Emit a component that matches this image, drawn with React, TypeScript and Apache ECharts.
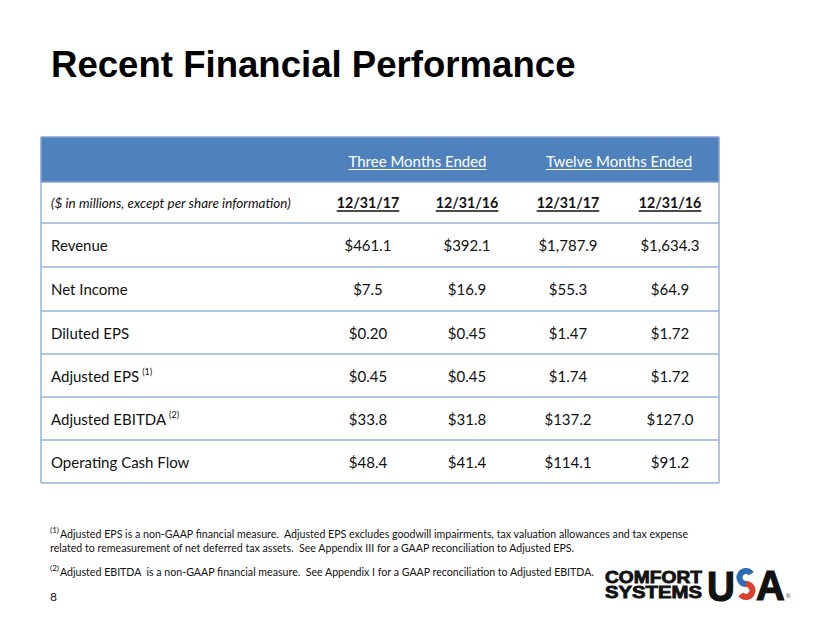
import React, { useEffect, useRef } from "react";
import * as echarts from "echarts";

// ---------- data ----------
const pageTitle = "Recent Financial Performance";
const periodGroups = ["Three Months Ended", "Twelve Months Ended"];
const unitsNote = "($ in millions, except per share information)";
const periodDates = ["12/31/17", "12/31/16", "12/31/17", "12/31/16"];
const rowLabels = ["Revenue", "Net Income", "Diluted EPS", "Adjusted EPS", "Adjusted EBITDA", "Operating Cash Flow"];
const rowNotes = ["", "", "", "(1)", "(2)", ""];
const rowDecimals = [1, 1, 2, 2, 1, 1];
const q4_2017 = [461.1, 7.5, 0.2, 0.45, 33.8, 48.4];
const q4_2016 = [392.1, 16.9, 0.45, 0.45, 31.8, 41.4];
const fy2017 = [1787.9, 55.3, 1.47, 1.74, 137.2, 114.1];
const fy2016 = [1634.3, 64.9, 1.72, 1.72, 127.0, 91.2];
const footnotes = [
  {
    mark: "(1)",
    lines: [
      "Adjusted EPS is a non-GAAP financial measure.  Adjusted EPS excludes goodwill impairments, tax valuation allowances and tax expense",
      "related to remeasurement of net deferred tax assets.  See Appendix III for a GAAP reconciliation to Adjusted EPS.",
    ],
  },
  {
    mark: "(2)",
    lines: ["Adjusted EBITDA  is a non-GAAP financial measure.  See Appendix I for a GAAP reconciliation to Adjusted EBITDA."],
  },
];
const pageNumber = "8";

// ---------- layout / style ----------
const TABLE_W = 678;
const TABLE_H = 346;
const rowEdges = [0, 45, 86, 130, 174, 217, 260, 303, 346];
const colCenters = [327, 426, 527, 629];
const LABEL_X = 10;
const BLUE = "#4F81BD";
const BORDER = "#95B3D7";
const FONT = "Lato";
const TEXT = "#111";

let measureCtx: CanvasRenderingContext2D | null = null;
function textWidth(text: string, font: string) {
  if (!measureCtx) measureCtx = document.createElement("canvas").getContext("2d");
  if (!measureCtx) return text.length * 7;
  measureCtx.font = font;
  return measureCtx.measureText(text).width;
}

function fmt(v: number, d: number) {
  return "$" + v.toLocaleString("en-US", { minimumFractionDigits: d, maximumFractionDigits: d });
}

const seriesCols = [q4_2017, q4_2016, fy2017, fy2016];

function txt(text: string, x: number, y: number, opts: any = {}) {
  const size = opts.size ?? 15;
  return {
    type: "text",
    style: {
      text,
      x,
      y,
      fill: opts.fill ?? TEXT,
      fontSize: size,
      fontFamily: opts.family ?? FONT,
      fontWeight: opts.weight ?? "normal",
      fontStyle: opts.style ?? "normal",
      align: opts.align ?? "left",
      textAlign: opts.align ?? "left",
      verticalAlign: opts.vAlign ?? "middle",
      textVerticalAlign: opts.vAlign ?? "middle",
    },
  };
}

function underlined(text: string, cx: number, cy: number, opts: any, color: string, lw: number) {
  const size = opts.size ?? 15;
  const font = `${opts.weight ?? "normal"} ${size}px ${opts.family ?? FONT}`;
  const w = textWidth(text, font);
  const uy = cy + size * 0.6;
  return [
    txt(text, cx, cy, { ...opts, align: "center" }),
    { type: "line", shape: { x1: cx - w / 2, y1: uy, x2: cx + w / 2, y2: uy }, style: { stroke: color, lineWidth: lw } },
  ];
}

export default function App() {
  const ref = useRef<HTMLDivElement>(null);
  useEffect(() => {
    if (!ref.current) return;
    const chart = echarts.init(ref.current, null, { renderer: "svg" });

    const rowCount = rowEdges.length - 1;
    const rowData = Array.from({ length: rowCount }, (_, i) => [0, rowEdges[i]]);

    const renderItem = (params: any, api: any) => {
      const i = params.dataIndex;
      const [x0, y0] = api.coord([0, rowEdges[i]]);
      const [x1, y1] = api.coord([TABLE_W, rowEdges[i + 1]]);
      const cy = (y0 + y1) / 2;
      const cx = (v: number) => api.coord([v, 0])[0];
      const children: any[] = [];
      if (i === 0) {
        children.push({ type: "rect", shape: { x: x0, y: y0, width: x1 - x0, height: y1 - y0 }, style: { fill: BLUE } });
        for (let g = 0; g < periodGroups.length; g++) {
          const gx = (cx(colCenters[g * 2]) + cx(colCenters[g * 2 + 1])) / 2;
          children.push(...underlined(periodGroups[g], gx, cy + 1, { size: 15, fill: "#fff" }, "#fff", 1));
        }
      } else if (i === 1) {
        children.push(txt(unitsNote, x0 + LABEL_X, cy, { size: 13.5, style: "italic" }));
        periodDates.forEach((d, c) => {
          children.push(...underlined(d, cx(colCenters[c]), cy, { size: 14.2, weight: "bold" }, TEXT, 1.5));
        });
      } else {
        const r = i - 2;
        const lab = rowLabels[r];
        children.push(txt(lab, x0 + LABEL_X, cy, { size: 15 }));
        if (rowNotes[r]) {
          const w = textWidth(lab, `normal 15px ${FONT}`);
          children.push(txt(rowNotes[r], x0 + LABEL_X + w + 3, cy - 4, { size: 9 }));
        }
        seriesCols.forEach((col, c) => {
          children.push(txt(fmt(col[r], rowDecimals[r]), cx(colCenters[c]), cy, { size: 15, align: "center" }));
        });
      }
      // borders
      const line = (ax: number, ay: number, bx: number, by: number) => ({
        type: "line",
        shape: { x1: ax, y1: ay, x2: bx, y2: by },
        style: { stroke: i === 0 ? "#7FA3D0" : BORDER, lineWidth: 1.5 },
      });
      children.push(line(x0, y1, x1, y1));
      children.push(line(x0, y0, x0, y1));
      children.push(line(x1, y0, x1, y1));
      if (i === 0) children.push(line(x0, y0, x1, y0));
      return { type: "group", children };
    };

    const graphics: any[] = [];
    graphics.push({
      type: "text",
      left: 51,
      top: 46,
      style: { text: pageTitle, fill: "#000", fontSize: 36.6, fontWeight: "bold", fontFamily: "Liberation Sans" },
    });
    // footnotes
    let fy = 533;
    footnotes.forEach((fn) => {
      graphics.push({
        type: "text",
        x: 50,
        y: fy - 3,
        style: { text: fn.mark, fill: TEXT, fontSize: 8, fontFamily: FONT, verticalAlign: "middle", textVerticalAlign: "middle" },
      });
      fn.lines.forEach((ln, j) => {
        graphics.push({
          type: "text",
          x: j === 0 ? 60 : 50,
          y: fy,
          scaleX: 0.885,
          style: { text: ln, fill: TEXT, fontSize: 12, fontFamily: FONT, verticalAlign: "middle", textVerticalAlign: "middle" },
        });
        fy += 14.5;
      });
      fy += 9;
    });
    graphics.push({
      type: "text",
      x: 50,
      y: 596,
      style: { text: pageNumber, fill: TEXT, fontSize: 12, fontFamily: FONT, verticalAlign: "middle", textVerticalAlign: "middle" },
    });
    // logo
    const logoFont = { fill: "#111", fontSize: 16, fontWeight: "bold", fontFamily: "Liberation Sans", verticalAlign: "bottom", textVerticalAlign: "bottom", stroke: "#111", lineWidth: 0.8 };
    graphics.push({ type: "text", x: 605, y: 586, scaleX: 1.2, style: { text: "COMFORT", ...logoFont } });
    graphics.push({ type: "text", x: 605, y: 600, scaleX: 1.27, style: { text: "SYSTEMS", ...logoFont } });
    const bigFont = { fill: "#111", fontSize: 42, fontWeight: "bold", fontFamily: "Liberation Sans", verticalAlign: "bottom", textVerticalAlign: "bottom", stroke: "#111", lineWidth: 1.2 };
    graphics.push({ type: "text", x: 707, y: 607, scaleX: 0.92, style: { text: "U", ...bigFont } });
    graphics.push({ type: "text", x: 756, y: 607, scaleX: 0.95, style: { text: "A", ...bigFont } });
    // S as two coloured arcs
    graphics.push({
      type: "arc",
      shape: { cx: 746, cy: 577.5, r: 6.5, startAngle: -Math.PI / 5, endAngle: Math.PI / 2, clockwise: false },
      style: { stroke: "#2E6DB5", lineWidth: 6, fill: null },
    });
    graphics.push({
      type: "arc",
      shape: { cx: 746, cy: 590.5, r: 6.5, startAngle: -Math.PI / 2, endAngle: (4 * Math.PI) / 5, clockwise: true },
      style: { stroke: "#D9412E", lineWidth: 6, fill: null },
    });
    graphics.push({
      type: "text",
      x: 786,
      y: 599,
      style: { text: "®", fill: "#111", fontSize: 6, fontFamily: "Liberation Sans", verticalAlign: "bottom", textVerticalAlign: "bottom" },
    });

    chart.setOption({
      animation: false,
      backgroundColor: "#fff",
      grid: { left: 41, top: 137, width: TABLE_W, height: TABLE_H },
      xAxis: { type: "value", min: 0, max: TABLE_W, show: false },
      yAxis: { type: "value", min: 0, max: TABLE_H, inverse: true, show: false },
      series: [
        {
          type: "custom",
          coordinateSystem: "cartesian2d",
          data: rowData,
          renderItem,
          silent: true,
        },
      ],
      graphic: graphics,
    });
    return () => chart.dispose();
  }, []);
  return <div ref={ref} style={{ position: "fixed", left: 0, top: 0, width: 830, height: 623 }} />;
}
